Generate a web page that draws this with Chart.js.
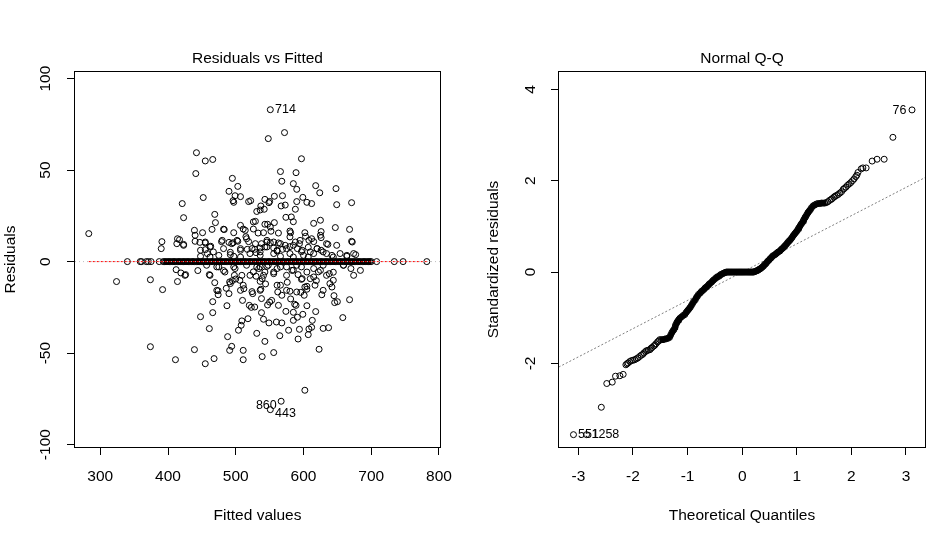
<!DOCTYPE html>
<html><head><meta charset="utf-8">
<script src="https://cdn.jsdelivr.net/npm/chart.js@4/dist/chart.umd.min.js"></script>
<style>
html,body{margin:0;padding:0;background:#fff;}
#wrap{position:relative;width:952px;height:534px;overflow:hidden;}
.pane{position:absolute;top:0;width:476px;height:534px;}
</style></head><body>
<div id="wrap">
<div class="pane" style="left:0"><canvas id="c1" width="476" height="534"></canvas></div>
<div class="pane" style="left:476px"><canvas id="c2" width="476" height="534"></canvas></div>
</div>
<script>
// ---------- Residuals vs Fitted ----------
const fittedNZ = [283,551,548,572,442,455,466,597,441,566,589,495,568,585,618,648,503,590,490,624,499,507,569,599,452,496,497,522,519,543,557,550,549,590,605,612,649,671,421,567,573,537,536,531,542,588,469,423,574,582,585,470,526,529,543,547,557,625,615,507,511,465,439,483,526,563,552,580,581,647,668,451,497,533,602,626,440,515,414,417,603,626,391,390,413,423,447,455,463,455,458,479,490,496,503,519,538,546,551,563,573,588,594,608,615,636,672,492,507,517,528,536,530,546,556,561,569,580,591,597,607,620,626,677,644,585,615,475,536,556,521,580,600,634,507,664,674,462,448,497,566,607,
482,514,541,551,440,455,462,480,494,502,516,529,546,556,566,580,595,612,625,634,649,671,423,448,467,482,492,507,524,536,543,561,575,585,598,610,620,629,642,654,664,
324,374,392,412,414,426,419,444,461,469,466,466,448,461,374,411,439,455,468,474,474,482,486,487,490,491,495,488,494,491,498,500,506,507,510,512,509,508,504,511,511,518,520,523,524,525,530,528,531,536,537,538,538,541,543,539,544,547,549,550,553,556,560,562,563,565,568,566,568,574,576,580,578,581,585,585,587,589,592,592,591,594,596,597,599,602,601,605,605,607,608,610,612,613,618,623,627,629,637,638,639,645,646,650,644,658,668,670,619,605,567,551,516,531,546,561,575,585,615,629,497,472,457,659,556,541,526,597,622,
425,462,475,484,499,509,521,534,539,548,556,566,575,583,590,598,605,615,625,634,644,659,674,684,472,492,511,536,561,575,590,602,617,629,642,536,543];
const residNZ = [15.3,83,67.2,70.5,59.5,55,55.8,56.2,48.1,49.2,48.6,45.5,43.9,42.6,41.5,39.9,41.1,39.5,38.4,37.6,36,35.5,36,35.1,35,33.3,32.4,33.3,32.8,34,35.7,32.9,32.2,32.8,32.4,31.7,31.1,32.2,31.7,30.4,30.9,30.4,28.2,27.4,28.6,28.6,25.8,24,24.2,24.4,21.8,21.3,21.7,22,20.4,20.4,21.3,22.6,20.9,19.8,17.8,17.6,17.1,17.5,17.8,15.6,16.6,16.7,15.8,18.6,17.6,15.8,15.8,15.6,15.8,16.4,14.4,13.6,12.5,12,13.8,13.1,10.9,7.1,9.8,9.4,10.5,10.2,8.4,6.5,4.4,10.9,10.5,10.3,11.1,10.9,9.8,10.7,10.3,10.2,8.9,10.7,9.8,11.6,10.9,9.4,10.7,5.1,7.1,6.7,6.7,7.4,4.9,8,7.4,5.8,6.7,8.2,7.1,5.4,7.8,7.1,6.2,3.8,2.5,2.5,4.4,3.4,3.4,4.4,4.4,4.4,3.4,4.4,2.5,2.9,4.4,2.5,2.9,2.9,2.9,2.5,
17.7,17.1,15.8,18.9,11.1,10.7,8,11.6,9.8,11.6,12.5,9.8,11.6,10.7,9.8,13.5,11.6,12.5,14.4,9.8,8.9,11.1,8.9,6.2,5.3,7.1,3.8,6.2,7.1,5.3,8,6.2,7.1,8.9,6.2,5.3,7.1,5.3,3.4,4.4,3.4,
-10.9,-9.9,-15.3,-4.4,-10.9,-7.1,-6.2,-4.9,-7.1,-11.5,-21.9,-27.9,-30.1,-36.6,-46.5,-53.6,-48.1,-55.8,-53,-15.9,-18.1,-4.9,-14.6,-24.1,-17.5,-11.1,-10.4,-41,-46.3,-48.5,-7.5,-9.5,-10.2,-15.7,-21.2,-14.8,-32.4,-34.8,-37.5,-48.5,-53.6,-31.2,-23.9,-25,-16.4,-17.5,-8,-24.8,-39.2,-10.8,-15.1,-27.9,-20.2,-31.5,-43.6,-51.9,-12.2,-23.7,-33.5,-22.1,-21.2,-49.7,-33,-16.6,-23.9,-40.5,-33.5,-12.9,-18.4,-27.2,-11.3,-16.2,-37.5,-20.4,-27.7,-32.1,-23.3,-23.9,-7.1,-42.3,-30.4,-37,-16.8,-9.7,-28.8,-70.3,-18.4,-15.1,-24.1,-39.9,-36.8,-9.3,-35.9,-32.1,-27.3,-47.9,-18.1,-36.5,-36.1,-6.6,-12,-18.6,-22.4,-21.9,-5.8,-30.6,-20.8,-3.8,-10.4,-13.5,-76.3,-80.9,-2,-3,-2.6,-3.8,-2.9,-4.7,-3.8,-2,-2.9,-2.9,-2,-2,-6.6,-7.5,-5.6,-2.9,-5.6,
-7.5,-7.5,-2.9,-5.7,-3.8,-7.5,-7.5,-3.8,-9.3,-2,-5.7,-2.9,-7.5,-4.8,-2,-9.3,-5.7,-8.4,-4.8,-7.5,-10.2,-2,-7.5,-4.8,-15.7,-12,-12.9,-15.7,-12.9,-15.7,-16.6,-13.9,-12.9,-15.7,-13.9,-2.9,-5.7];
const fittedZeroSparse = [340,359,361,368,371,375,387,708,734,747,782];
const fittedZeroDense = [393,395,397,400,402,404,407,409,411,414,416,418,421,423,425,428,430,432,435,437,439,442,444,446,449,451,453,456,458,460,463,465,467,470,472,474,477,479,481,484,486,488,491,493,495,498,500,502,505,507,509,512,514,516,519,521,523,526,528,530,533,535,537,540,542,544,547,549,551,554,556,558,561,563,565,568,570,572,575,577,579,582,584,586,589,591,593,596,598,600,603,605,607,610,612,614,617,619,621,624,626,628,631,633,635,638,640,642,645,647,649,652,654,656,659,661,663,666,668,670,673,675,677,680,682,684,687,689,691,694,696,698,700];
const smoothX = [283, 783];
const smoothY = [0, 0];
const fitTicks = [300, 400, 500, 600, 700, 800];
const residTicks = [-100, -50, 0, 50, 100];
const resLabelText = ['714', '860', '443'];
const resLabelX = [558, 560.5, 558];
const resLabelY = [83, -78.9, -83.1];

// ---------- Normal Q-Q ----------
const qqTailLowX = [-3.09,-2.85,-2.58,-2.48,-2.38,-2.32,-2.24,-2.18,
-2.13,-2.11,-2.09,-2.06,-2.03,-2.00,-1.97,-1.94,-1.91,-1.88,-1.85,-1.82,-1.80,-1.77,-1.75,-1.72,-1.69,-1.67,-1.65,-1.62,-1.60,-1.58,-1.55,-1.53];
const qqTailLowY = [-3.56,-3.56,-2.96,-2.44,-2.41,-2.28,-2.27,-2.24,
-2.03,-2.01,-1.99,-1.96,-1.94,-1.93,-1.92,-1.90,-1.88,-1.85,-1.82,-1.80,-1.77,-1.74,-1.72,-1.71,-1.70,-1.67,-1.65,-1.62,-1.60,-1.57,-1.53,-1.51];
const qqBodyX = [-1.51,-1.48,-1.45,-1.42,-1.39,-1.36,-1.33,-1.31,-1.29,-1.27,-1.25,-1.23,-1.22,-1.20,-1.19,-1.17,-1.16,-1.14,-1.11,-1.08,-1.05,-1.03,-1.01,-0.99,-0.97,-0.95,-0.93,-0.91,-0.89,-0.86,-0.84,-0.82,-0.80,-0.77,-0.75,-0.73,-0.70,-0.68,-0.66,-0.63,-0.61,-0.59,-0.56,-0.54,-0.52,-0.49,-0.47,-0.45,-0.42,-0.40,-0.38,-0.35,-0.33,-0.31,-0.29,
-0.27,-0.25,-0.23,-0.21,-0.19,-0.17,-0.15,-0.13,-0.11,-0.09,-0.07,-0.05,-0.03,-0.01,0.01,0.03,0.05,0.07,0.09,0.11,0.13,0.15,0.17,0.19,0.21,
0.23,0.25,0.27,0.29,0.31,0.33,0.35,0.37,0.39,0.41,0.43,0.45,0.47,0.49,0.51,0.53,0.55,0.57,0.60,0.62,0.64,0.66,0.69,0.71,0.73,0.75,0.77,0.79,0.81,0.83,0.85,0.87,0.89,0.91,0.93,0.95,0.97,0.99,1.01,1.03,1.04,1.06,1.08,1.10,1.12,1.13,1.15,1.16,1.18,1.20,1.21,1.23,1.25,1.27,1.30,1.33,1.36,1.39,1.42,1.45,1.48,1.51,1.54];
const qqBodyY = [-1.48,-1.48,-1.48,-1.47,-1.46,-1.45,-1.43,-1.38,-1.33,-1.29,-1.26,-1.21,-1.16,-1.12,-1.09,-1.06,-1.04,-1.01,-0.98,-0.95,-0.93,-0.89,-0.86,-0.83,-0.80,-0.77,-0.73,-0.69,-0.65,-0.61,-0.56,-0.53,-0.49,-0.46,-0.43,-0.41,-0.38,-0.35,-0.33,-0.30,-0.27,-0.25,-0.22,-0.19,-0.17,-0.14,-0.12,-0.10,-0.09,-0.06,-0.05,-0.03,-0.02,-0.01,0,
0,0,0,0,0,0,0,0,0,0,0,0,0,0,0,0,0,0,0,0,0,0,0,0,0,
0.01,0.02,0.03,0.04,0.06,0.07,0.09,0.11,0.13,0.16,0.18,0.21,0.24,0.26,0.29,0.31,0.34,0.36,0.38,0.40,0.42,0.44,0.46,0.49,0.51,0.53,0.56,0.58,0.61,0.64,0.67,0.69,0.72,0.75,0.79,0.82,0.85,0.88,0.91,0.95,0.97,1.01,1.05,1.08,1.12,1.15,1.19,1.21,1.25,1.29,1.31,1.34,1.37,1.41,1.45,1.47,1.49,1.50,1.50,1.51,1.51,1.51,1.52];
const qqTailHighX = [1.57,1.60,1.63,1.65,1.68,1.70,1.73,1.76,1.79,1.82,1.85,1.87,1.90,1.93,1.96,1.99,2.02,2.05,2.08,2.10,
2.12,2.18,2.21,2.27,2.38,2.47,2.60,2.76,3.11];
const qqTailHighY = [1.54,1.57,1.59,1.61,1.64,1.66,1.68,1.70,1.73,1.76,1.81,1.83,1.86,1.90,1.93,1.96,2.00,2.04,2.09,2.12,
2.18,2.26,2.28,2.28,2.43,2.47,2.47,2.95,3.55];
const qqLineX = [-3.36, 3.35];
const qqLineY = [-2.08, 2.07];
const qqTicksX = [-3, -2, -1, 0, 1, 2, 3];
const qqTicksY = [-2, 0, 2, 4];
const qqLabelText = ['76', '551', '1258'];
const qqLabelX = [3.007, -3.007, -2.76];
const qqLabelY = [3.545, -3.56, -3.56];

// ---------- helpers ----------
const FAM = '"Liberation Sans", Arial, sans-serif';
const F = {family: FAM, size: 15.5, lineHeight: 1.2};
Chart.defaults.font.family = FAM;

const pts = (xs, ys) => xs.map((x, i) => ({x: x, y: ys[i]}));

const boxPlugin = {
  id: 'rbox',
  afterDraw(chart) {
    const a = chart.chartArea, c = chart.ctx;
    c.save(); c.strokeStyle = '#000'; c.lineWidth = 1;
    c.strokeRect(Math.round(a.left) - 0.5, Math.round(a.top) - 0.5,
                 Math.round(a.right) - Math.round(a.left) + 1, Math.round(a.bottom) - Math.round(a.top) + 1);
    c.restore();
  }
};
const titlePlugin = {
  id: 'rtitle',
  afterDraw(chart, args, o) {
    const a = chart.chartArea, c = chart.ctx;
    c.save(); c.fillStyle = '#000'; c.font = '15.5px ' + FAM;
    c.textAlign = 'center'; c.textBaseline = 'middle';
    c.fillText(o.text, (a.left + a.right) / 2, o.y);
    c.restore();
  }
};
const labelPlugin = {
  id: 'rlabels',
  afterDatasetsDraw(chart, args, o) {
    const c = chart.ctx, sx = chart.scales.x, sy = chart.scales.y;
    c.save(); c.fillStyle = '#000'; c.font = '12.5px ' + FAM; c.textBaseline = 'middle';
    o.text.forEach((t, i) => {
      c.textAlign = o.align[i];
      c.fillText(t, sx.getPixelForValue(o.x[i]), sy.getPixelForValue(o.y[i]));
    });
    c.restore();
  }
};

function gridOpts() {
  return {display: true, drawOnChartArea: false, drawTicks: true, tickLength: 8, tickColor: '#000', lineWidth: 1};
}
function xAxis(min, max, ticks, title) {
  return {
    type: 'linear', min: min, max: max,
    afterBuildTicks: s => { s.ticks = ticks.map(v => ({value: v})); },
    afterFit: s => { s.height = 87; },
    grid: gridOpts(), border: {display: false},
    ticks: {color: '#000', font: F, padding: 12, maxRotation: 0, minRotation: 0, autoSkip: false, callback: v => String(v)},
    title: {display: true, text: title, color: '#000', font: F, padding: {top: 0, bottom: 8.7}}
  };
}
function yAxis(min, max, ticks, title, width, pad, tpad) {
  return {
    type: 'linear', min: min, max: max,
    afterBuildTicks: s => { s.ticks = ticks.map(v => ({value: v})); },
    afterFit: s => { s.width = width; },
    grid: gridOpts(), border: {display: false},
    ticks: {color: '#000', font: F, padding: pad, minRotation: 90, maxRotation: 90, crossAlign: 'center', autoSkip: false, callback: v => String(v)},
    title: {display: true, text: title, color: '#000', font: F, padding: {top: tpad, bottom: 0}}
  };
}
const ptStyle = {showLine: false, pointStyle: 'circle', pointRadius: 3, pointBorderWidth: 1,
  pointBorderColor: '#000', pointBackgroundColor: 'rgba(0,0,0,0)', borderColor: '#000', backgroundColor: 'rgba(0,0,0,0)'};
const bandStyle = {showLine: true, borderWidth: 5, borderColor: '#000', pointStyle: 'circle', pointRadius: 3, pointBorderWidth: 1,
  pointBorderColor: '#000', pointBackgroundColor: 'rgba(0,0,0,0)', backgroundColor: 'rgba(0,0,0,0)'};

// ---------- chart 1 ----------
new Chart(document.getElementById('c1'), {
  type: 'scatter',
  data: {
    datasets: [
      {data: pts(smoothX, smoothY), showLine: true, pointRadius: 0, borderColor: '#ff0000', borderWidth: 1, borderDash: [2, 2]},
      {data: pts([262.7, 801.5], [0, 0]), showLine: true, pointRadius: 0, borderColor: '#bebebe', borderWidth: 1, borderDash: [1, 3]},
      Object.assign({data: pts(fittedNZ, residNZ).concat(pts(fittedZeroSparse, fittedZeroSparse.map(() => 0)))}, ptStyle),
      Object.assign({data: pts(fittedZeroDense, fittedZeroDense.map(() => 0))}, bandStyle)
    ]
  },
  options: {
    responsive: false, animation: false, devicePixelRatio: 1,
    layout: {padding: {left: 0, right: 36, top: 72, bottom: 0}},
    scales: {
      x: xAxis(262.7, 801.5, fitTicks, 'Fitted values'),
      y: yAxis(-101.3, 103.6, residTicks, 'Residuals', 75, 5.6, 1.2)
    },
    plugins: {
      legend: {display: false}, tooltip: {enabled: false}, title: {display: false},
      rtitle: {text: 'Residuals vs Fitted', y: 58.3},
      rlabels: {text: resLabelText, x: resLabelX, y: resLabelY, align: ['left', 'right', 'left']}
    }
  },
  plugins: [boxPlugin, titlePlugin, labelPlugin]
});

// ---------- chart 2 ----------
new Chart(document.getElementById('c2'), {
  type: 'scatter',
  data: {
    datasets: [
      Object.assign({data: pts(qqTailLowX, qqTailLowY).concat(pts(qqTailHighX, qqTailHighY))}, ptStyle),
      Object.assign({data: pts(qqBodyX, qqBodyY)}, bandStyle),
      {data: pts(qqLineX, qqLineY), showLine: true, pointRadius: 0, borderColor: '#7f7f7f', borderWidth: 1, borderDash: [2, 2]}
    ]
  },
  options: {
    responsive: false, animation: false, devicePixelRatio: 1,
    layout: {padding: {left: 0, right: 27, top: 72, bottom: 0}},
    scales: {
      x: xAxis(-3.355, 3.348, qqTicksX, 'Theoretical Quantiles'),
      y: yAxis(-3.83, 4.38, qqTicksY, 'Standardized residuals', 83, 13.1, 8.7)
    },
    plugins: {
      legend: {display: false}, tooltip: {enabled: false}, title: {display: false},
      rtitle: {text: 'Normal Q-Q', y: 58.3},
      rlabels: {text: qqLabelText, x: qqLabelX, y: qqLabelY, align: ['right', 'left', 'left']}
    }
  },
  plugins: [boxPlugin, titlePlugin, labelPlugin]
});
</script>
</body></html>
